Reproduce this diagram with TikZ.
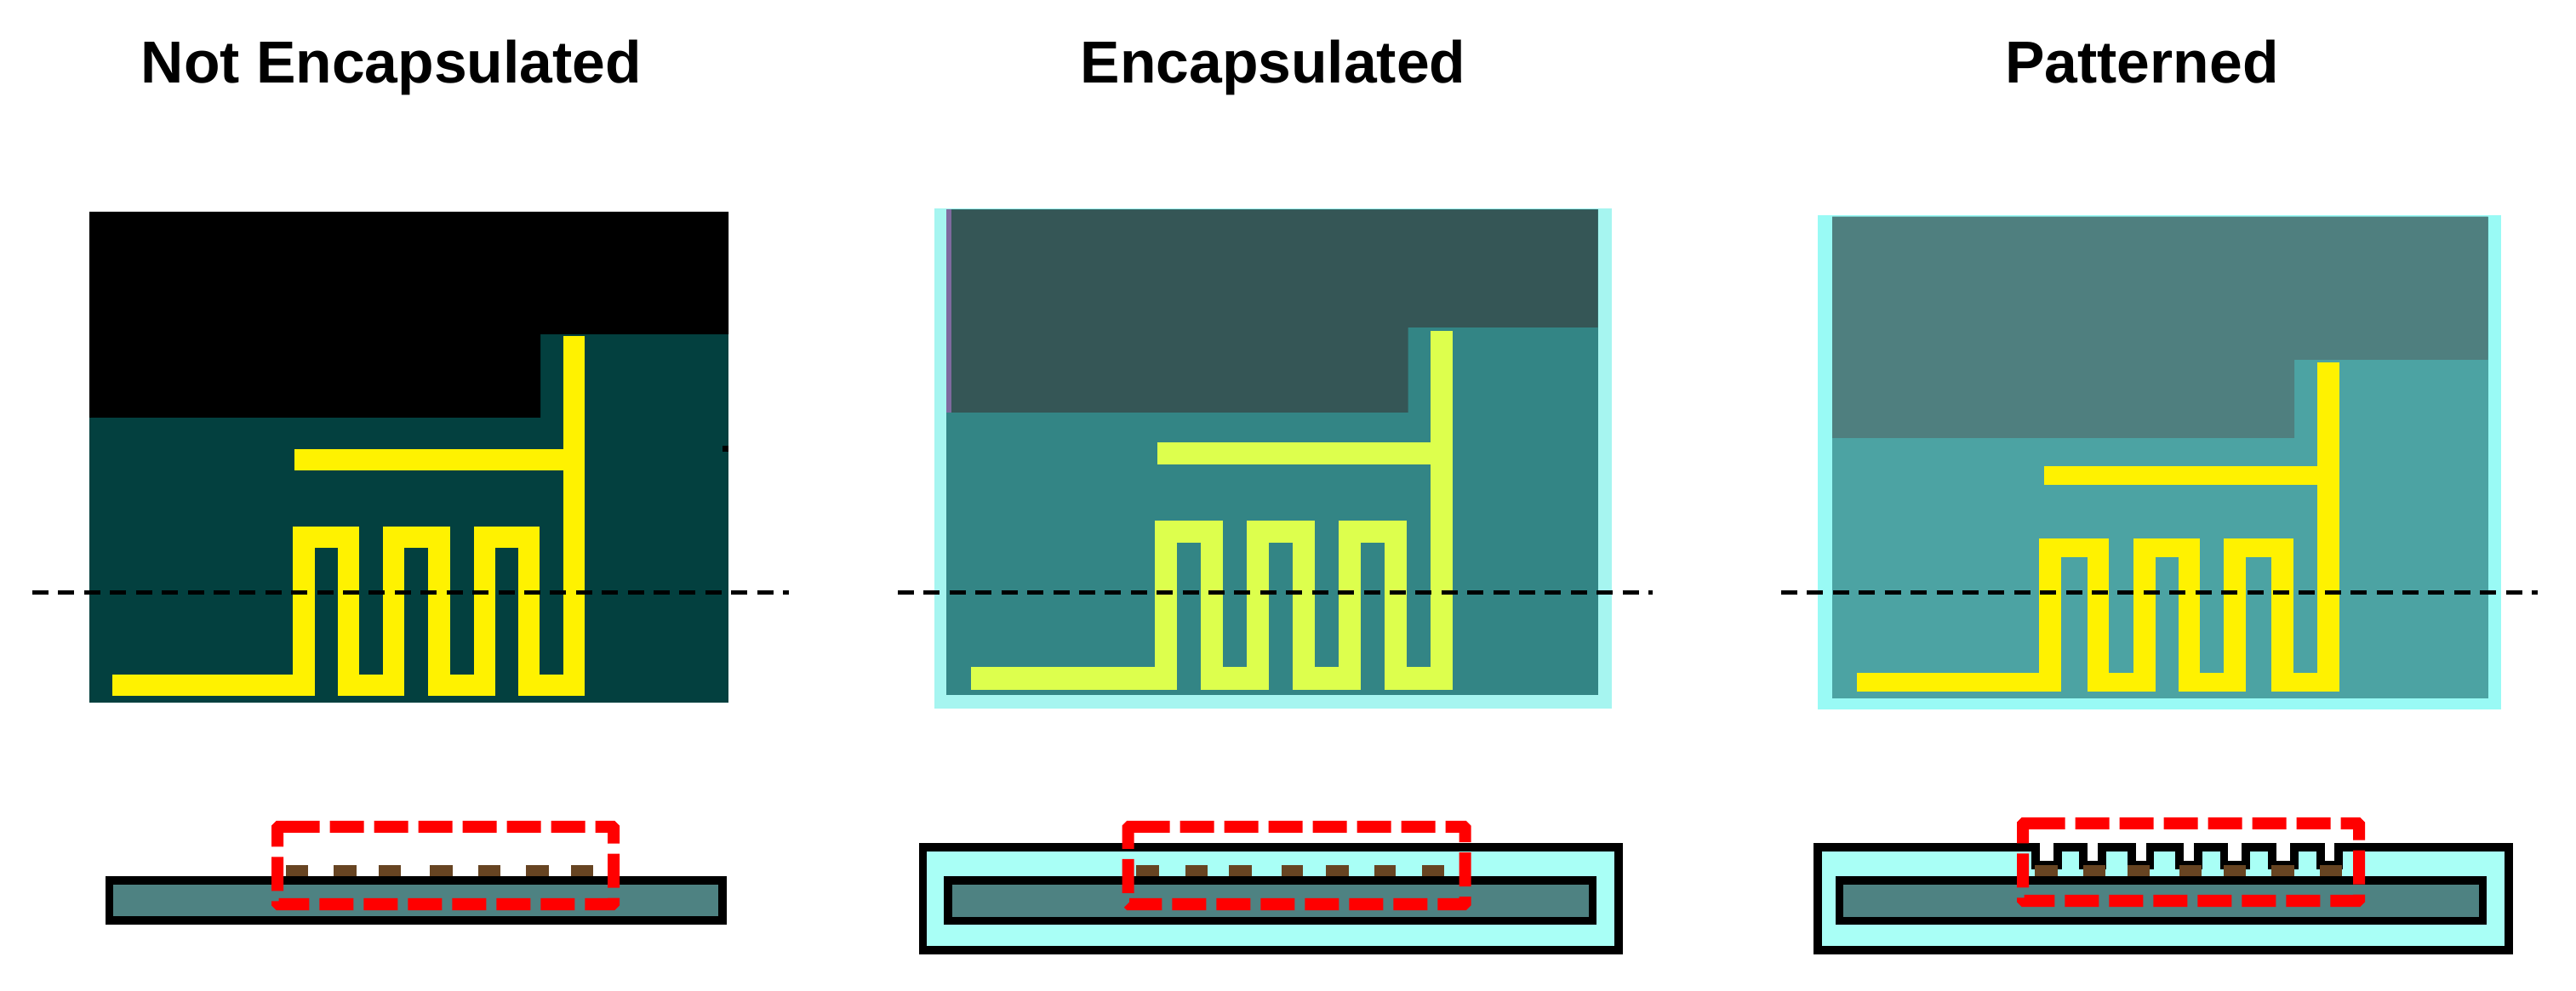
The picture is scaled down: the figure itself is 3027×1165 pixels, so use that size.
\documentclass[tikz,border=0pt]{standalone}
\usepackage{fontspec}
\setmainfont{Liberation Sans}
\definecolor{bareBase}{HTML}{03403F}
\definecolor{encBase}{HTML}{338585}
\definecolor{encDark}{HTML}{355656}
\definecolor{encTrace}{HTML}{DDFF4D}
\definecolor{encStain}{HTML}{7F6A9E}
\definecolor{patBase}{HTML}{4CA3A3}
\definecolor{patDark}{HTML}{4F7F7F}
\definecolor{encEdge}{HTML}{A6F5F0}
\definecolor{patEdge}{HTML}{99FAF5}
\definecolor{capFill}{HTML}{A9FFF6}
\definecolor{subFill}{HTML}{4E8282}
\definecolor{metal}{HTML}{674422}

\begin{document}
\begin{tikzpicture}[x=0.01cm,y=-0.01cm,
        title/.style={font=\bfseries\fontsize{19.8pt}{24pt}\selectfont, inner sep=0pt, outer sep=0pt, anchor=base},
        trace/.style={line width=0.25cm, line join=miter, line cap=butt},
        cutline/.style={line width=0.05cm, dash pattern=on 0.19cm off 0.114cm},
        layer/.style={draw=black, line width=0.097cm, line join=miter},
        zone/.style={draw=red, line width=0.14cm, rounded corners=0.015cm, dash pattern=on 0.4cm off 0.12cm}]
            \useasboundingbox (0,0) rectangle (3027,1165);

            \node[title] (titlebare) at (460,97.7) {Not Encapsulated};
            \node[title] (titleenc) at (1496,97.7) {Encapsulated};
            \node[title] (titlepat) at (2517,97.7) {Patterned};

            \fill[bareBase] (105,249) rectangle (856,826);
            \fill[black] (105,249) -- (856,249) -- (856,393) -- (635,393) -- (635,491) -- (105,491) -- cycle;
            \fill[black] (849,524) rectangle (856,531);
            \draw[trace, yellow] (346,541) -- (674,541);
            \draw[trace, yellow] (132,805.5) -- (357,805.5) -- (357,632) -- (409.5,632) -- (409.5,805.5) -- (462.5,805.5) -- (462.5,632) -- (516,632) -- (516,805.5) -- (569,805.5) -- (569,632) -- (621.5,632) -- (621.5,805.5) -- (674,805.5) -- (674,395.5);
            \draw[cutline] (38,697) -- (927,697);

            \fill[encEdge] (1098,245) rectangle (1894,833);
            \fill[encBase] (1112,246.5) rectangle (1877.5,817);
            \fill[encDark] (1112,246.5) -- (1877.5,246.5) -- (1877.5,385) -- (1654.5,385) -- (1654.5,485) -- (1112,485) -- cycle;
            \fill[encStain] (1112,246.5) rectangle (1118,485);
            \draw[trace, encTrace, line width=0.26cm] (1359.5,533.5) -- (1694,533.5);
            \draw[trace, encTrace, line width=0.26cm] (1141,797.5) -- (1370,797.5) -- (1370,625) -- (1423.5,625) -- (1423.5,797.5) -- (1478,797.5) -- (1478,625) -- (1531.5,625) -- (1531.5,797.5) -- (1586,797.5) -- (1586,625) -- (1639.5,625) -- (1639.5,797.5) -- (1694,797.5) -- (1694,389.5);
            \draw[cutline] (1055,697) -- (1942,697);

            \fill[patEdge] (2136,253) rectangle (2938.5,834);
            \fill[patBase] (2153,254.7) rectangle (2923.5,821);
            \fill[patDark] (2153,254.7) -- (2923.5,254.7) -- (2923.5,423) -- (2696,423) -- (2696,515) -- (2153,515) -- cycle;
            \draw[trace, yellow, line width=0.22cm] (2402,559.5) -- (2736,559.5);
            \draw[trace, yellow, line width=0.22cm] (2182,802) -- (2396.5,802) (2396.5,644.5) -- (2478,644.5) (2453,802) -- (2533,802) (2507,644.5) -- (2585,644.5) (2560,802) -- (2639,802) (2613.5,644.5) -- (2694.5,644.5) (2669,802) -- (2748.5,802);
            \draw[trace, yellow, line width=0.255cm] (2409,633.5) -- (2409,813) (2465.5,633.5) -- (2465.5,813) (2520,633.5) -- (2520,813) (2572.5,633.5) -- (2572.5,813) (2626,633.5) -- (2626,813) (2682,633.5) -- (2682,813) (2736,426) -- (2736,813);
            \draw[cutline] (2093,697) -- (2982,697);

            \draw[layer, fill=subFill] (128.5,1035) rectangle (849,1082);
            \fill[metal] (336,1017) rectangle (362,1030);
            \fill[metal] (392,1017) rectangle (419,1030);
            \fill[metal] (445,1017) rectangle (471,1030);
            \fill[metal] (505,1017) rectangle (532,1030);
            \fill[metal] (562,1017) rectangle (588,1030);
            \fill[metal] (618,1017) rectangle (645,1030);
            \fill[metal] (671,1017) rectangle (697,1030);
            \draw[zone] (334,972) -- (721,972) -- (721,1063) -- (326,1063) -- (326,972) -- cycle;

            \draw[layer, fill=capFill] (1084.5,996) rectangle (1902,1117);
            \draw[layer, fill=subFill] (1114,1035) rectangle (1871.5,1082.5);
            \fill[metal] (1335,1017) rectangle (1362,1030);
            \fill[metal] (1392.5,1017) rectangle (1418.5,1030);
            \fill[metal] (1444,1017) rectangle (1471,1030);
            \fill[metal] (1505.5,1017) rectangle (1531,1030);
            \fill[metal] (1558,1017) rectangle (1585,1030);
            \fill[metal] (1614.5,1017) rectangle (1640,1030);
            \fill[metal] (1671,1017) rectangle (1696.5,1030);
            \draw[zone] (1333,972) -- (1721.5,972) -- (1721.5,1063) -- (1325.5,1063) -- (1325.5,972) -- cycle;

            \draw[layer, fill=capFill] (2136,996) -- (2392,996) -- (2392,1017) -- (2418,1017) -- (2418,996) -- (2448,996) -- (2448,1017) -- (2470,1017) -- (2470,996) -- (2505,996) -- (2505,1017) -- (2526.5,1017) -- (2526.5,996) -- (2561,996) -- (2561,1017) -- (2583,1017) -- (2583,996) -- (2613.5,996) -- (2613.5,1017) -- (2639,1017) -- (2639,996) -- (2670,996) -- (2670,1017) -- (2696,1017) -- (2696,996) -- (2727,996) -- (2727,1017) -- (2748,1017) -- (2748,996) -- (2948,996) -- (2948,1117) -- (2136,1117) -- cycle;
            \draw[layer, fill=subFill] (2161.5,1035) rectangle (2917.5,1082.5);
            \fill[metal] (2391,1017) rectangle (2418,1030);
            \fill[metal] (2448,1017) rectangle (2474,1030);
            \fill[metal] (2500,1017) rectangle (2526,1030);
            \fill[metal] (2561,1017) rectangle (2587,1030);
            \fill[metal] (2613,1017) rectangle (2639,1030);
            \fill[metal] (2669,1017) rectangle (2696,1030);
            \fill[metal] (2726,1017) rectangle (2752,1030);
            \draw[zone] (2385,968) -- (2772,968) -- (2772,1059) -- (2377,1059) -- (2377,968) -- cycle;
\end{tikzpicture}
\end{document}
